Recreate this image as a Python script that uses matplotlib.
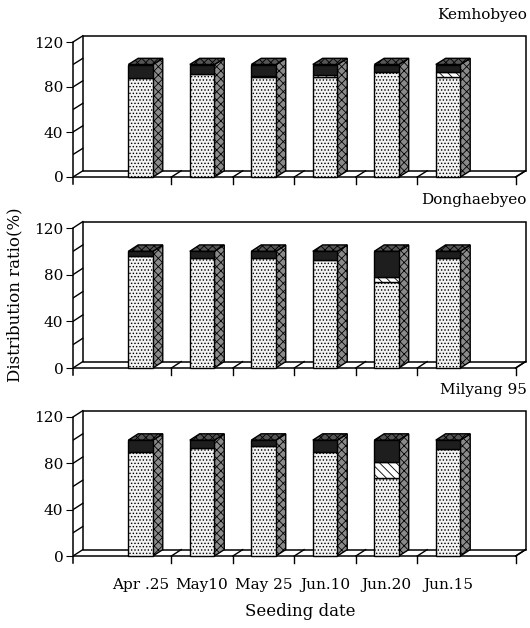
import numpy as np
import matplotlib.pyplot as plt
from matplotlib.patches import Polygon, Rectangle

plt.rcParams['font.family'] = 'DejaVu Serif'
plt.rcParams['hatch.linewidth'] = 0.6

dates = ['Apr .25', 'May10', 'May 25', 'Jun.10', 'Jun.20', 'Jun.15']
cultivars = ['Kemhobyeo', 'Donghaebyeo', 'Milyang 95']

# distribution ratio (%): lower stippled part, hatched part, dark upper part
kem_low = [88, 92, 89, 89, 93, 89]
kem_mid = [0, 0, 1, 2, 0, 4]
kem_top = [12, 8, 10, 9, 7, 7]

dong_low = [96, 94, 94.5, 92.5, 74, 94]
dong_mid = [0, 0, 0, 0, 4, 0]
dong_top = [4, 6, 5.5, 7.5, 22, 6]

mil_low = [90, 93, 95, 90, 67, 92]
mil_mid = [0, 0, 0, 0, 14, 0]
mil_top = [10, 7, 5, 10, 19, 8]

yticks = [0, 40, 80, 120]

W, H = 530, 628
fig = plt.figure(figsize=(W / 100, H / 100), dpi=100)

# pixel rows of the 0 and 120 levels for each panel
rows = [(177, 42), (368, 228), (556, 417)]
title_y = [15, 200, 390]

xl, xr = -1.1, 6.1   # front floor extent
dx, dy = 0.16, 5.5   # depth offset
w = 0.4
ylo, yhi = -8, 128


def panel(ax, low, mid, top, last):
    x = np.arange(len(dates))
    ax.set_xlim(xl, 6.3)
    ax.set_ylim(ylo, yhi)
    # back wall
    ax.add_patch(Rectangle((xl + dx, dy), xr - xl, 120, fill=False, lw=1.1, zorder=1))
    # slanted lines on the side wall
    for v in range(0, 121, 20):
        ax.plot([xl, xl + dx], [v, v + dy], color='k', lw=1, zorder=1)
    # floor
    ax.plot([xl, xr], [0, 0], color='k', lw=1.1, zorder=1)
    ax.plot([xr, xr + dx], [0, dy], color='k', lw=1.1, zorder=1)
    for b in list(x[:-1] + 0.5) + [xr]:
        ax.plot([b, b + dx], [0, dy], color='k', lw=1, zorder=1)
        ax.plot([b, b], [0, -6], color='k', lw=1, zorder=1)

    for i in x:
        total = low[i] + mid[i] + top[i]
        l, r = i - w / 2, i + w / 2
        ax.add_patch(Polygon([(r, 0), (r + dx, dy), (r + dx, total + dy), (r, total)],
                             facecolor='#8a8a8a', edgecolor='k', hatch='xxxx', lw=1, zorder=3))
        ax.add_patch(Polygon([(l, total), (l + dx, total + dy), (r + dx, total + dy), (r, total)],
                             facecolor='#555555', edgecolor='k', hatch='xxxx', lw=1, zorder=3))
        ax.add_patch(Rectangle((l, 0), w, low[i], facecolor='#f2f2f2', edgecolor='k',
                               hatch='.....', lw=1, zorder=3))
        if mid[i] > 0:
            ax.add_patch(Rectangle((l, low[i]), w, mid[i], facecolor='white', edgecolor='k',
                                   hatch='\\\\\\\\', lw=1, zorder=3))
        ax.add_patch(Rectangle((l, low[i] + mid[i]), w, top[i], facecolor='#1e1e1e',
                               edgecolor='k', lw=1, zorder=3))

    for s in ['top', 'right', 'bottom']:
        ax.spines[s].set_visible(False)
    ax.spines['left'].set_bounds(-6, 120)
    ax.spines['left'].set_linewidth(1.1)
    ax.set_yticks(yticks)
    ax.tick_params(axis='y', direction='out', length=5, labelsize=11, pad=2)
    if last:
        ax.set_xticks(x, dates)
        ax.tick_params(axis='x', length=0, labelsize=11, pad=9)
    else:
        ax.set_xticks([])


data = [(kem_low, kem_mid, kem_top), (dong_low, dong_mid, dong_top), (mil_low, mil_mid, mil_top)]
for k, (y0, y120) in enumerate(rows):
    s = (y0 - y120) / 120
    bot_px = y0 - ylo * s
    top_px = y0 - yhi * s
    ax = fig.add_axes([73 / W, 1 - bot_px / H, 455 / W, (bot_px - top_px) / H])
    ax.patch.set_visible(False)
    panel(ax, *data[k], last=(k == 2))
    fig.text(527 / W, 1 - title_y[k] / H, cultivars[k], ha='right', va='center', fontsize=11)

fig.text(15 / W, 1 - 295 / H, 'Distribution ratio(%)', rotation=90, ha='center', va='center', fontsize=12)
fig.text(300 / W, 1 - 612 / H, 'Seeding date', ha='center', va='center', fontsize=12)

plt.savefig('out.png', dpi=100)
